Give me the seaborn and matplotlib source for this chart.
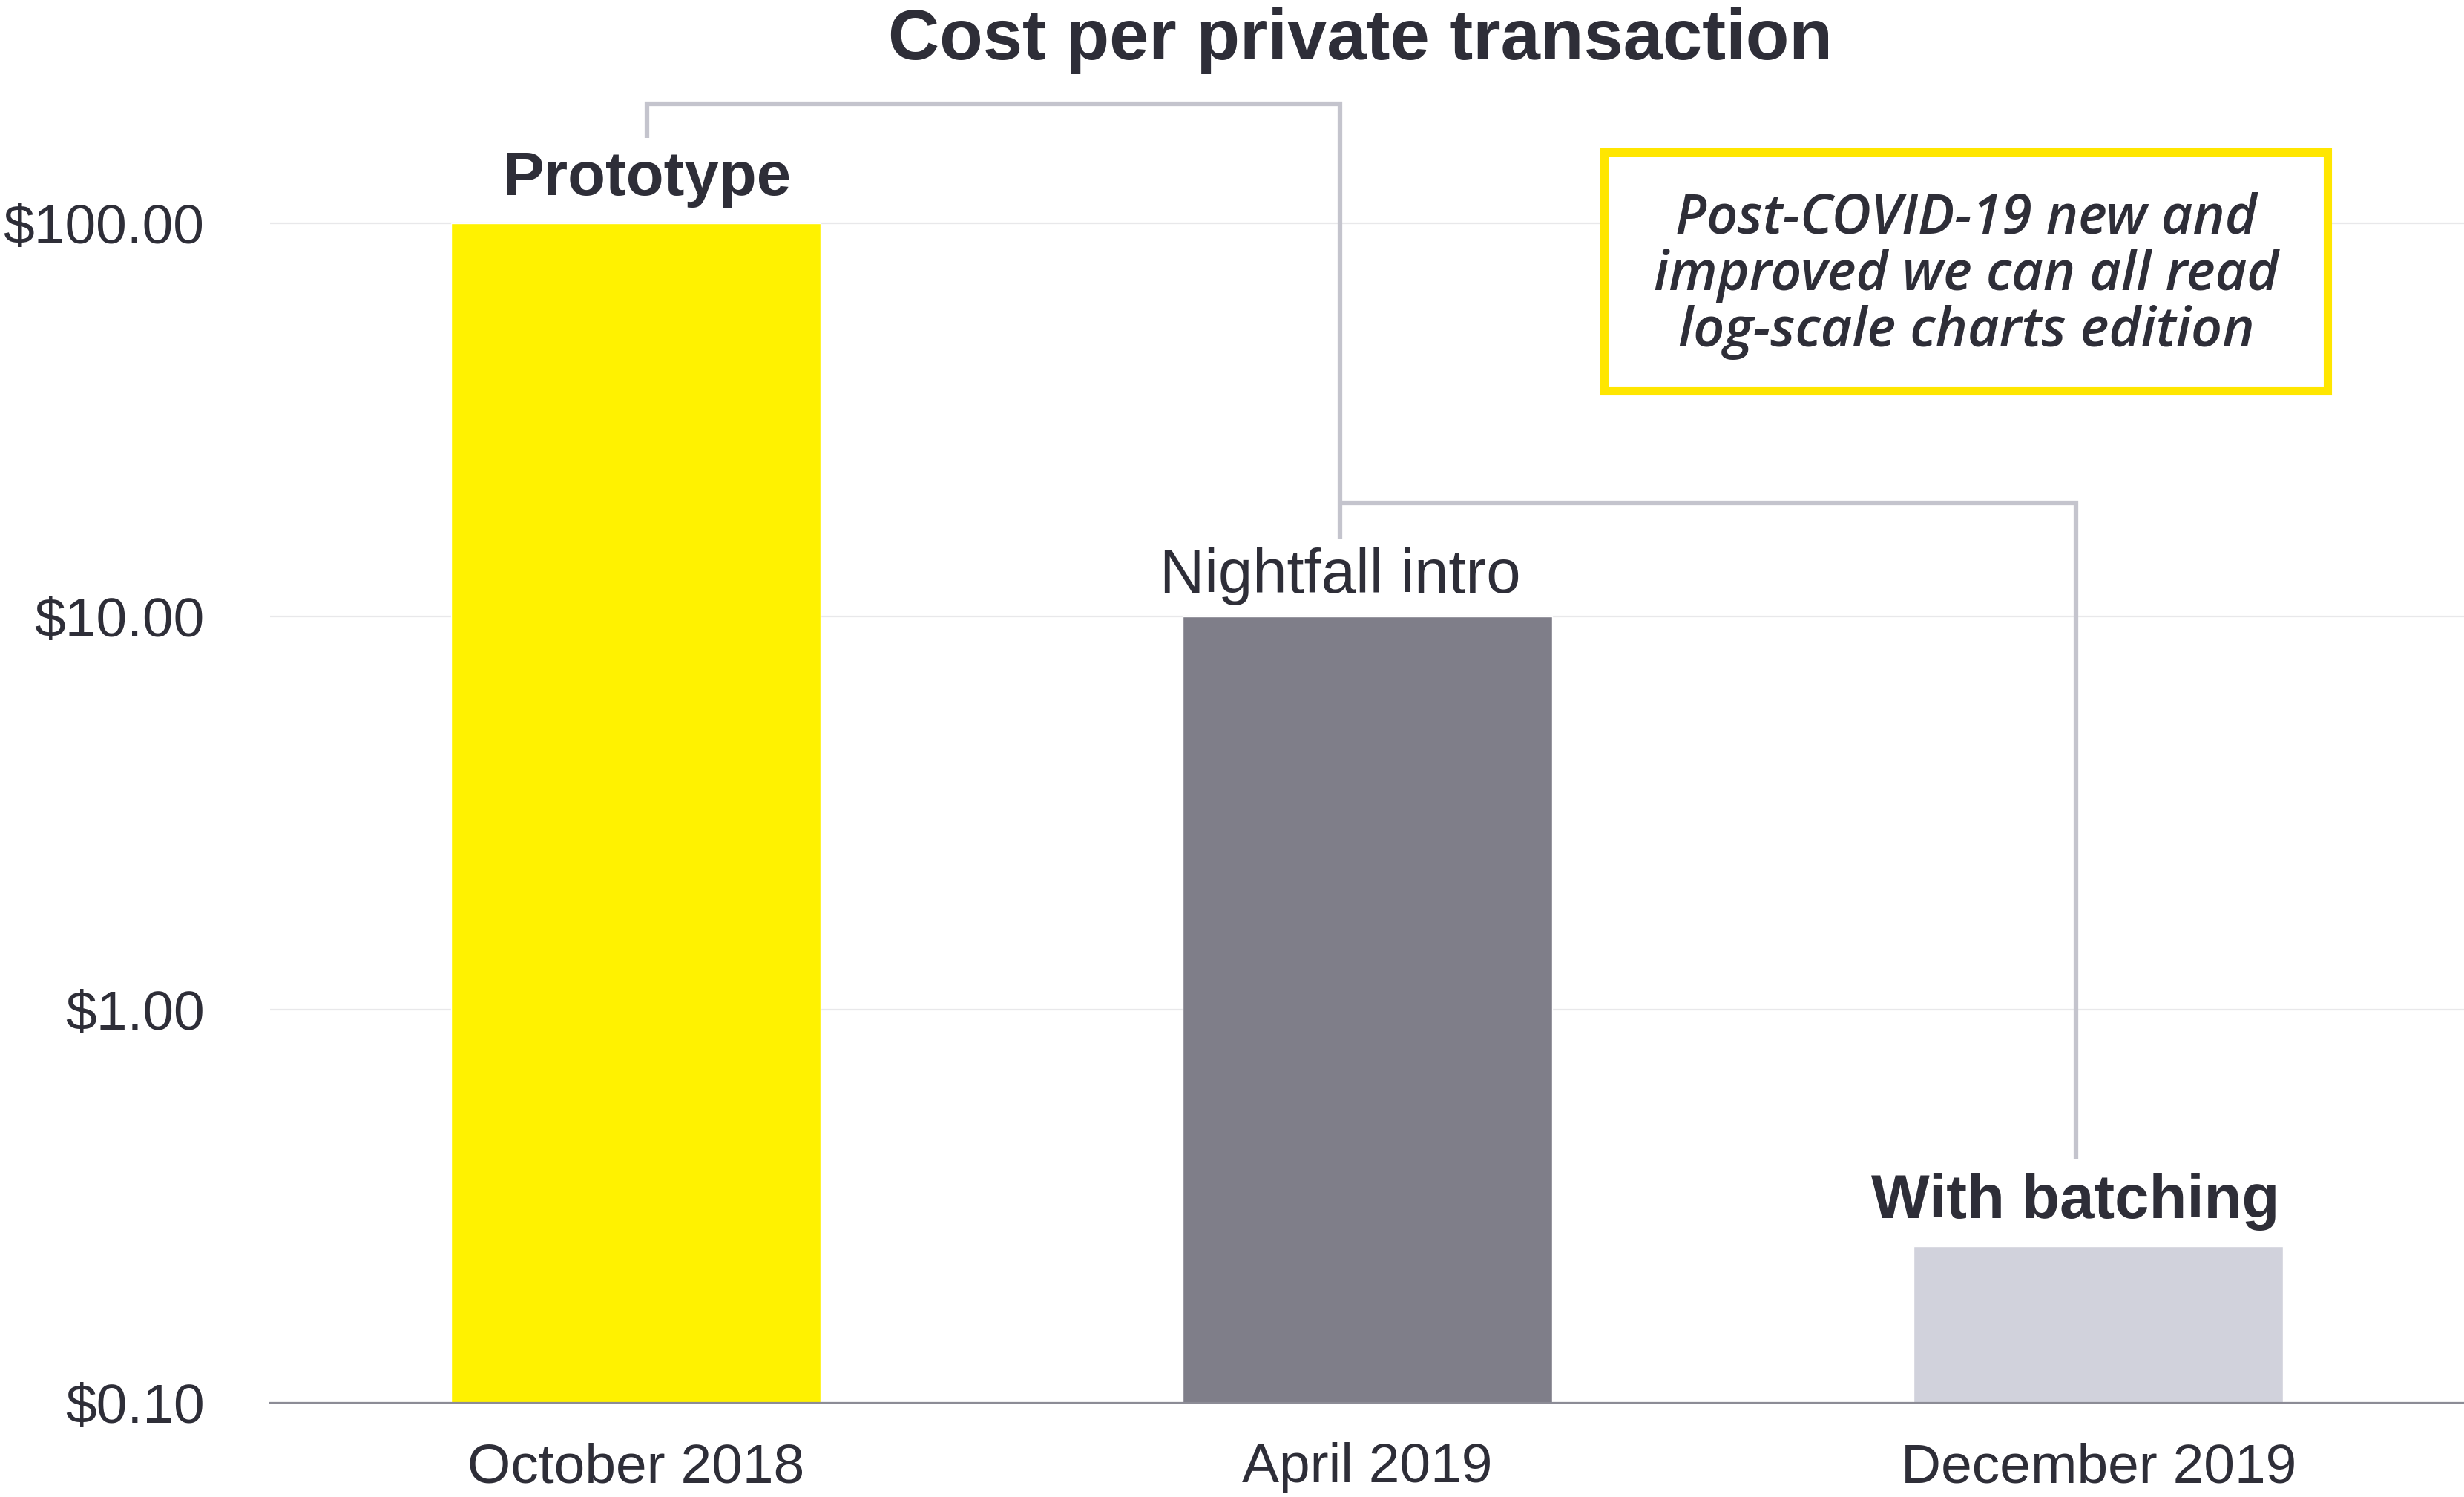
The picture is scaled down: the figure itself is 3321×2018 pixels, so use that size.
import matplotlib
matplotlib.use("Agg")
import matplotlib.pyplot as plt
import matplotlib.transforms as mtransforms
from matplotlib.patches import Rectangle
import seaborn as sns
import pandas as pd

# ---- data ----
periods = ["October 2018", "April 2019", "December 2019"]
costs = [100.0, 10.0, 0.25]
stage_labels = ["Prototype", "Nightfall intro", "With batching"]
stage_weights = ["bold", "normal", "bold"]
bar_colors = ["#FFF200", "#7F7E89", "#D1D2DC"]
ytick_values = [0.1, 1, 10, 100]
ytick_labels = ["\\$0.10", "\\$1.00", "\\$10.00", "\\$100.00"]
title = "Cost per private transaction"
note = "Post-COVID-19 new and\nimproved we can all read\nlog-scale charts edition"

TXT = "#2E2E38"

sns.set_theme(style="white")
plt.rcParams['font.family'] = ['Liberation Sans', 'DejaVu Sans']

df = pd.DataFrame({"period": periods, "cost": costs})

fig = plt.figure(figsize=(33.21, 20.18), dpi=100)
fig.patch.set_facecolor("white")
ax = fig.add_axes([0.1097, 0.0627, 0.8903, 0.9373])

sns.barplot(data=df, x="period", y="cost", hue="period", palette=bar_colors,
            legend=False, width=0.505, saturation=1, ax=ax, zorder=3)
ax.set_yscale("log")
ax.set_ylim(0.1, 10 ** (-1 + 893 / 250.3))
ax.set_xlim(-0.5, 2.5)
ax.minorticks_off()
ax.set_yticks(ytick_values)
ax.set_yticklabels(ytick_labels)
ax.set_xlabel("")
ax.set_ylabel("")
ax.tick_params(axis="y", length=0, pad=64, labelsize=54, labelcolor=TXT)
ax.tick_params(axis="x", length=0, pad=38, labelsize=54, labelcolor=TXT)

ax.set_axisbelow(True)
ax.yaxis.grid(True, color="#E8E8EA", lw=1.6)
for s in ["top", "right", "left"]:
    ax.spines[s].set_visible(False)
ax.spines["bottom"].set_color("#8C8C96")
ax.spines["bottom"].set_linewidth(1.6)
ax.spines["bottom"].set_zorder(4)

# ---- bar labels ----
label_dx = [0.015, -0.037, -0.031]
label_dy = [27, 23, 28]
for i, (lab, w, c) in enumerate(zip(stage_labels, stage_weights, costs)):
    ax.annotate(lab, xy=(i + label_dx[i], c), xytext=(0, label_dy[i]), textcoords="offset points",
                ha="center", va="baseline", fontsize=60, fontweight=w, color=TXT)

# ---- connector brackets ----
trans = mtransforms.blended_transform_factory(ax.transData, ax.transAxes)
x1, x2, x3 = 0.0 + label_dx[0], 1.0 + label_dx[1], 2.0 + label_dx[2]
line_kw = dict(transform=trans, color="#C4C4CD", lw=4.5, clip_on=False,
               solid_joinstyle="miter", solid_capstyle="butt", zorder=2)
ax.plot([x1, x1, x2, x2], [0.9015, 0.9261, 0.9261, 0.6159], **line_kw)
ax.plot([x2, x3, x3], [0.6417, 0.6417, 0.1736], **line_kw)

# ---- title ----
fig.text(0.552, 1 - 80 / 2018, title, ha="center", va="baseline",
         fontsize=69, fontweight="bold", color=TXT)

# ---- note box ----
box = Rectangle((0.6510, 0.7389), 0.2936, 0.1596, transform=fig.transFigure,
                facecolor="white", edgecolor="#FFE600", lw=8, zorder=5)
fig.add_artist(box)
fig.text(0.798, 0.8156, note, ha="center", va="center", multialignment="center",
         fontsize=53, style="italic", fontweight="semibold",
         family=["Open Sans", "DejaVu Sans"],
         color=TXT, linespacing=1.04, zorder=6)

fig.savefig("out.png", dpi=100, facecolor="white")
